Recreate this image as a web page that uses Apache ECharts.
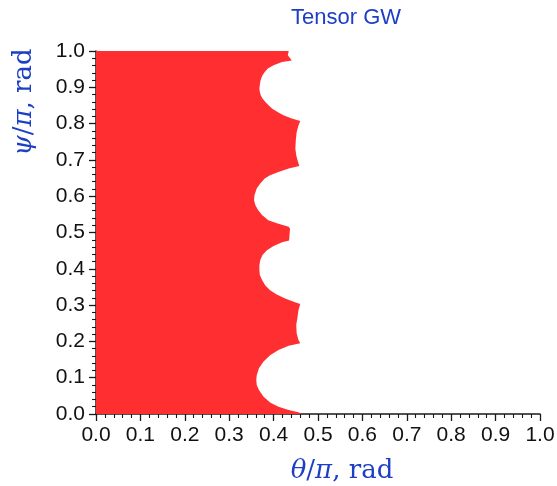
<!DOCTYPE html>
<html>
<head>
<meta charset="utf-8">
<script src="https://cdn.jsdelivr.net/npm/echarts@6/dist/echarts.min.js"></script>
<style>
  html, body { margin: 0; padding: 0; background: #ffffff; }
  #chart { width: 557px; height: 486px; }
</style>
</head>
<body>
<div id="chart"></div>
<script>
// Polarisation angle psi/pi (ascending) along the edge of the allowed region
const psiEdge = [
  0.000, 0.005, 0.011, 0.020, 0.032, 0.048, 0.066, 0.080, 0.094, 0.107,
  0.126, 0.144, 0.162, 0.176, 0.188, 0.195, 0.204, 0.222, 0.245, 0.268,
  0.286, 0.303, 0.309, 0.318, 0.329, 0.341, 0.355, 0.369, 0.383, 0.396,
  0.410, 0.424, 0.438, 0.451, 0.463, 0.473, 0.478, 0.495, 0.510, 0.516,
  0.525, 0.534, 0.548, 0.562, 0.575, 0.589, 0.603, 0.621, 0.635, 0.649,
  0.658, 0.667, 0.676, 0.683, 0.694, 0.713, 0.731, 0.754, 0.777, 0.795,
  0.807, 0.814, 0.823, 0.832, 0.841, 0.851, 0.860, 0.869, 0.878, 0.887,
  0.896, 0.906, 0.915, 0.924, 0.933, 0.942, 0.952, 0.961, 0.970, 0.974,
  0.988, 1.000
];
// Limiting theta/pi for each psi value above (region spans theta = 0 .. edge)
const thetaEdge = [
  0.464, 0.456, 0.434, 0.411, 0.392, 0.377, 0.367, 0.362, 0.361, 0.362,
  0.367, 0.377, 0.392, 0.411, 0.434, 0.460, 0.456, 0.452, 0.451, 0.454,
  0.456, 0.460, 0.445, 0.426, 0.407, 0.392, 0.381, 0.374, 0.369, 0.368,
  0.368, 0.370, 0.375, 0.385, 0.400, 0.419, 0.435, 0.436, 0.437, 0.434,
  0.409, 0.388, 0.374, 0.365, 0.359, 0.356, 0.357, 0.362, 0.370, 0.380,
  0.392, 0.411, 0.434, 0.458, 0.455, 0.451, 0.449, 0.450, 0.452, 0.456,
  0.460, 0.441, 0.422, 0.409, 0.397, 0.388, 0.381, 0.375, 0.371, 0.369,
  0.368, 0.369, 0.370, 0.372, 0.375, 0.380, 0.387, 0.400, 0.419, 0.441,
  0.432, 0.434
];

const axisMin = 0.0;
const axisMax = 1.0;
const axisStep = 0.1;

const titleText = 'Tensor GW';
const blue = '#1c3fc4';
const fill = '#ff2e30';
const ink = '#1a1a1a';

const regionData = psiEdge.map((p, i) => [thetaEdge[i], p]);

const chart = echarts.init(document.getElementById('chart'), null, { renderer: 'canvas' });

function axisCommon() {
  return {
    type: 'value',
    min: axisMin,
    max: axisMax,
    interval: axisStep,
    axisLine: { show: true, lineStyle: { color: ink, width: 1.5 } },
    axisTick: { show: true, inside: false, length: 7, lineStyle: { color: ink, width: 1.3 } },
    minorTick: { show: true, splitNumber: 5, length: 4, lineStyle: { color: ink, width: 1.1 } },
    splitLine: { show: false },
    minorSplitLine: { show: false },
    axisLabel: {
      fontFamily: 'Liberation Sans, Arial, sans-serif',
      fontSize: 21,
      color: '#111111',
      margin: 11,
      formatter: v => v.toFixed(1)
    }
  };
}

const nameRich = {
  it: { fontFamily: 'DejaVu Serif', fontStyle: 'italic', fontSize: 26, fill: blue },
  up: { fontFamily: 'DejaVu Serif', fontSize: 26, fill: blue }
};

chart.setOption({
  animation: false,
  backgroundColor: '#ffffff',
  grid: { left: 96, right: 17, top: 51, bottom: 72, outerBoundsMode: 'none' },
  xAxis: axisCommon(),
  yAxis: axisCommon(),
  series: [{
    type: 'custom',
    data: regionData,
    encode: { x: 0, y: 1 },
    renderItem: function (params, api) {
      if (params.dataIndex !== 0) return null;
      const pts = [api.coord([axisMin, psiEdge[0]])];
      for (let i = 0; i < regionData.length; i++) {
        pts.push(api.coord(regionData[i]));
      }
      pts.push(api.coord([axisMin, psiEdge[psiEdge.length - 1]]));
      return {
        type: 'polygon',
        shape: { points: pts },
        style: { fill: fill, stroke: null }
      };
    },
    z: 1
  }],
  graphic: [
    {
      type: 'text',
      x: 346, y: 18,
      style: {
        text: titleText,
        fontFamily: 'Liberation Sans, Arial, sans-serif',
        fontSize: 22,
        fill: blue,
        align: 'center',
        verticalAlign: 'middle'
      }
    },
    {
      type: 'text',
      x: 342, y: 471,
      style: {
        text: '{it|θ}{up|/}{it|π}{up|, rad}',
        rich: nameRich,
        align: 'center',
        verticalAlign: 'middle'
      }
    },
    {
      type: 'text',
      x: 24, y: 102,
      rotation: Math.PI / 2,
      style: {
        text: '{it|ψ}{up|/}{it|π}{up|, rad}',
        rich: nameRich,
        align: 'center',
        verticalAlign: 'middle'
      }
    }
  ]
});
</script>
</body>
</html>
